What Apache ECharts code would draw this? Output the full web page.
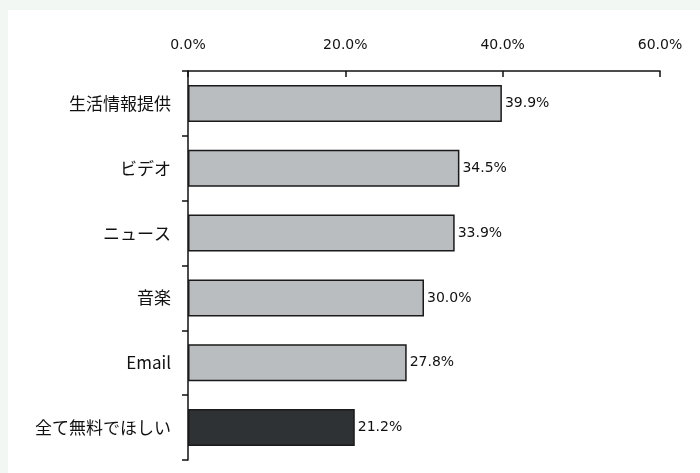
<!DOCTYPE html>
<html><head><meta charset="utf-8">
<script src="https://cdn.jsdelivr.net/npm/echarts@6/dist/echarts.min.js"></script>
<style>html,body{margin:0;padding:0;background:#f3f7f3}#c{width:700px;height:473px}</style>
</head><body><div id="c"></div>
<script>
const categories = ['生活情報提供', 'ビデオ', 'ニュース', '音楽', 'Email', '全て無料でほしい'];
const values = [39.9, 34.5, 33.9, 30.0, 27.8, 21.2];
const xTicks = [0, 20, 40, 60];

const chart = echarts.init(document.getElementById('c'));
const cjk = '"Noto Sans CJK JP", "DejaVu Sans", sans-serif';
const num = '"DejaVu Sans", sans-serif';
chart.setOption({
  backgroundColor: '#f3f7f3',
  animation: false,
  graphic: [{type: 'rect', z: -10, shape: {x: 8, y: 10, width: 692, height: 463}, style: {fill: '#ffffff'}}],
  grid: {left: 188, top: 71, right: 40, bottom: 13},
  xAxis: {
    type: 'value', position: 'top', min: xTicks[0], max: xTicks[xTicks.length - 1], interval: 20,
    axisLine: {show: true, lineStyle: {color: '#111', width: 1.5}},
    axisTick: {show: true, inside: true, length: 6, lineStyle: {color: '#111', width: 1.5}},
    splitLine: {show: false},
    axisLabel: {margin: 19, color: '#111', fontSize: 14, fontFamily: num,
      formatter: v => v.toFixed(1) + '%'}
  },
  yAxis: {
    type: 'category', inverse: true, data: categories,
    axisLine: {show: true, lineStyle: {color: '#111', width: 1.5}},
    axisTick: {show: true, inside: false, length: 6, lineStyle: {color: '#111', width: 1.5}},
    axisLabel: {margin: 17, color: '#111', fontSize: 17, fontFamily: cjk}
  },
  series: [{
    type: 'bar', barWidth: '57%',
    data: values.map((v, i) => ({value: v, itemStyle: {color: i === values.length - 1 ? '#2e3234' : '#b9bdbf'}})),
    itemStyle: {borderColor: '#1a1a1a', borderWidth: 1.5},
    label: {show: true, position: 'right', distance: 3, color: '#111', fontSize: 14, fontFamily: num,
      formatter: p => p.value.toFixed(1) + '%'}
  }]
});
</script></body></html>
